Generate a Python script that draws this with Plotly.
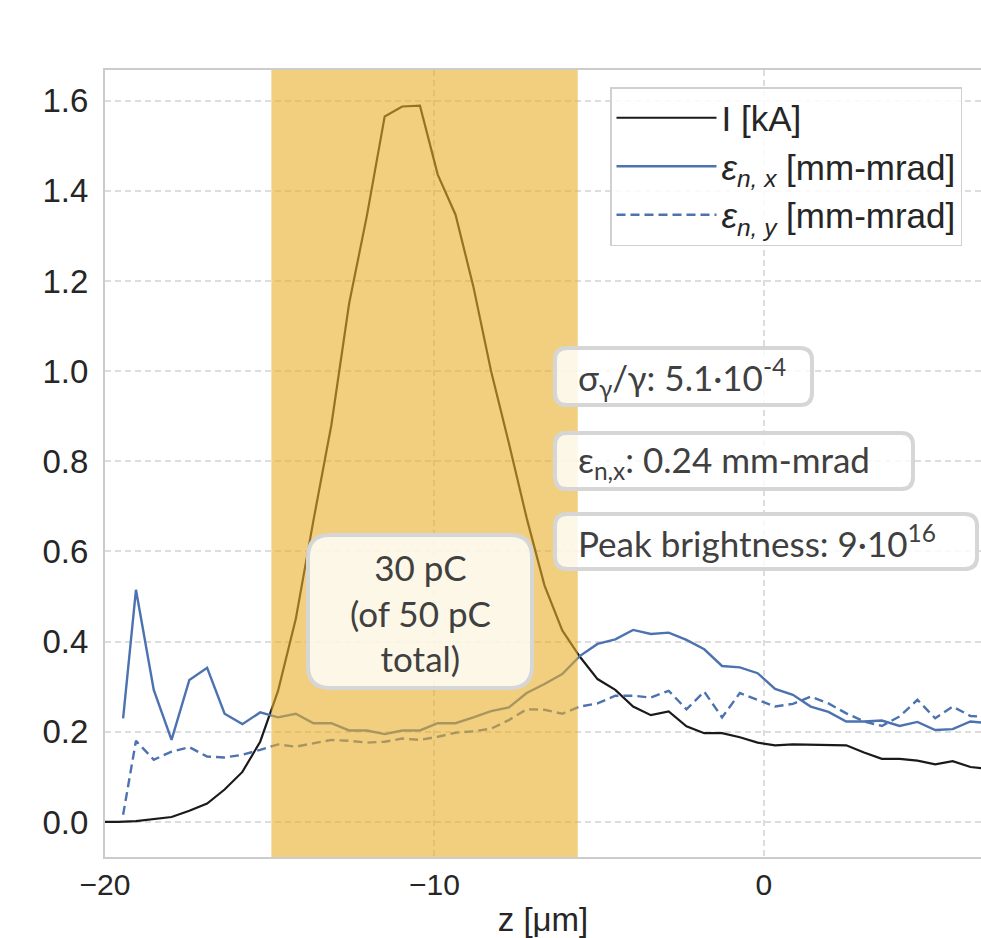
import plotly.graph_objects as go

# ---------------- data ----------------
z_current = [-20.14, -19.60, -19.06, -18.52, -17.98, -17.44, -16.90, -16.37, -15.83, -15.29,
             -14.75, -14.21, -13.67, -13.13, -12.59, -12.05, -11.51, -10.98, -10.44, -9.90,
             -9.36, -8.82, -8.28, -7.74, -7.20, -6.66, -6.12, -5.59, -5.05, -4.51,
             -3.97, -3.43, -2.89, -2.35, -1.81, -1.27, -0.73, -0.19, 0.34, 0.88,
             1.42, 1.96, 2.50, 3.04, 3.58, 4.12, 4.66, 5.20, 5.73, 6.27, 6.81]
current_kA = [0.0, 0.0, 0.002, 0.006, 0.011, 0.025, 0.041, 0.072, 0.111, 0.178,
              0.29, 0.45, 0.67, 0.88, 1.15, 1.345, 1.565, 1.587, 1.589, 1.436,
              1.347, 1.188, 1.0, 0.84, 0.674, 0.525, 0.425, 0.367, 0.317, 0.293,
              0.256, 0.237, 0.245, 0.212, 0.197, 0.197, 0.188, 0.176, 0.170, 0.172,
              0.171, 0.170, 0.170, 0.154, 0.140, 0.140, 0.136, 0.128, 0.135, 0.122, 0.118]

z_emit = [-19.45, -19.06, -18.52, -17.98, -17.44, -16.90, -16.37, -15.83, -15.29,
          -14.75, -14.21, -13.67, -13.13, -12.59, -12.05, -11.51, -10.98, -10.44, -9.90,
          -9.36, -8.82, -8.28, -7.74, -7.20, -6.66, -6.12, -5.59, -5.05, -4.51,
          -3.97, -3.43, -2.89, -2.35, -1.81, -1.27, -0.73, -0.19, 0.34, 0.88,
          1.42, 1.96, 2.50, 3.04, 3.58, 4.12, 4.66, 5.20, 5.73, 6.27, 6.81]
emit_x = [0.23, 0.515, 0.293, 0.182, 0.315, 0.342, 0.24, 0.217, 0.243,
          0.232, 0.240, 0.219, 0.219, 0.203, 0.203, 0.195, 0.203, 0.203, 0.219,
          0.219, 0.232, 0.246, 0.254, 0.286, 0.306, 0.328, 0.368, 0.395, 0.405,
          0.426, 0.417, 0.420, 0.404, 0.383, 0.346, 0.343, 0.330, 0.295, 0.282,
          0.256, 0.244, 0.223, 0.223, 0.225, 0.213, 0.222, 0.204, 0.206, 0.223, 0.219]
emit_y = [0.016, 0.180, 0.138, 0.156, 0.166, 0.145, 0.143, 0.149, 0.160,
          0.172, 0.167, 0.175, 0.182, 0.180, 0.176, 0.178, 0.185, 0.182, 0.189,
          0.198, 0.201, 0.207, 0.226, 0.250, 0.249, 0.240, 0.256, 0.263, 0.280,
          0.280, 0.276, 0.291, 0.250, 0.289, 0.232, 0.286, 0.271, 0.256, 0.262,
          0.278, 0.263, 0.241, 0.223, 0.213, 0.234, 0.271, 0.230, 0.256, 0.235, 0.233]

x_ticks = [-20, -10, 0]
x_tick_labels = ["\u221220", "\u221210", "0"]
y_ticks = [0.0, 0.2, 0.4, 0.6, 0.8, 1.0, 1.2, 1.4, 1.6]
y_tick_labels = ["0.0", "0.2", "0.4", "0.6", "0.8", "1.0", "1.2", "1.4", "1.6"]
span_z = [-14.95, -5.65]

legend_labels = ["I [kA]",
                 "<i>\u03b5</i><sub><i>n, x</i></sub> [mm-mrad]",
                 "<i>\u03b5</i><sub><i>n, y</i></sub> [mm-mrad]"]
charge_text = "30 pC<br>(of 50 pC<br>total)"
info_texts = ["\u03c3<sub>\u03b3</sub>/\u03b3: 5.1\u00b710<sup>-4</sup>",
              "\u03b5<sub>n,x</sub>: 0.24 mm-mrad",
              "Peak brightness: 9\u00b710<sup>16</sup>"]

# ---------------- layout geometry ----------------
W, H = 981, 938
L, R, T, B = 105, 0, 70, 81
PW, PH = W - L - R, H - T - B


def px(xp):
    return (xp - L) / PW


def py(yp):
    return (H - B - yp) / PH


def rounded_box(x0, y0, x1, y1, r):
    pts = [
        ("M", [(x0 + r, y0)]), ("L", [(x1 - r, y0)]), ("Q", [(x1, y0), (x1, y0 + r)]),
        ("L", [(x1, y1 - r)]), ("Q", [(x1, y1), (x1 - r, y1)]),
        ("L", [(x0 + r, y1)]), ("Q", [(x0, y1), (x0, y1 - r)]),
        ("L", [(x0, y0 + r)]), ("Q", [(x0, y0), (x0 + r, y0)]),
    ]
    s = ""
    for cmd, ps in pts:
        s += cmd + " ".join(f"{px(a):.5f},{py(b):.5f}" for a, b in ps) + " "
    return s + "Z"


BLUE = "#4c72b0"
fig = go.Figure()
fig.add_trace(go.Scatter(x=z_current, y=current_kA, mode="lines", name=legend_labels[0],
                         legendgroup="a", line=dict(color="#1a1a1a", width=2.2)))
fig.add_trace(go.Scatter(x=z_emit, y=emit_x, mode="lines", name=legend_labels[1],
                         legendgroup="b", line=dict(color=BLUE, width=2.4)))
fig.add_trace(go.Scatter(x=z_emit, y=emit_y, mode="lines", name=legend_labels[2],
                         legendgroup="c", line=dict(color=BLUE, width=2.4, dash="9px,5px")))

shapes = [dict(type="rect", xref="x", yref="paper", x0=span_z[0], x1=span_z[1], y0=0, y1=1,
               fillcolor="rgba(232,175,40,0.6)", line=dict(width=0), layer="above")]
box_style = dict(type="path", xref="paper", yref="paper", layer="above",
                 fillcolor="rgba(255,255,255,0.82)", line=dict(color="#d6d6d6", width=4))
shapes.append(dict(path=rounded_box(308, 535, 532, 688, 22), **box_style))
shapes.append(dict(path=rounded_box(555, 348, 812, 405, 12), **box_style))
shapes.append(dict(path=rounded_box(555, 433, 913, 489, 12), **box_style))
shapes.append(dict(path=rounded_box(555, 514, 977, 569, 12), **box_style))

ann_font = dict(family="Lato, 'Noto Sans', sans-serif", size=35, color="#404040")
annotations = [dict(text=charge_text, xref="paper", yref="paper", x=px(420), y=py(612),
                    xanchor="center", yanchor="middle", showarrow=False, align="center",
                    font=ann_font)]
for txt, yc in zip(info_texts, [377, 461, 541]):
    annotations.append(dict(text=txt, xref="paper", yref="paper", x=px(576), y=py(yc),
                            xanchor="left", yanchor="middle", showarrow=False,
                            align="left", font=ann_font))

fig.update_layout(
    width=W, height=H,
    margin=dict(l=L, r=R, t=T, b=B, autoexpand=False),
    paper_bgcolor="white", plot_bgcolor="white",
    font=dict(family="'Liberation Sans', Arial, sans-serif", color="#262626"),
    shapes=shapes, annotations=annotations,
    showlegend=True,
    legend=dict(x=px(610), y=py(87), xanchor="left", yanchor="top",
                bgcolor="rgba(255,255,255,0.85)", bordercolor="#d0d0d0", borderwidth=1.5,
                font=dict(size=35, color="#262626"), itemwidth=100, tracegroupgap=7,
                traceorder="normal"),
    xaxis=dict(range=[-20, 6.59], tickmode="array", tickvals=x_ticks, ticktext=x_tick_labels,
               showgrid=True, gridcolor="#dddddd", gridwidth=1.5, griddash="6px,4px",
               zeroline=False, showline=True, linecolor="#cccccc", linewidth=2, mirror=True,
               ticks="", tickfont=dict(size=30), ticklabelstandoff=0,
               title=dict(text="z [\u03bcm]", font=dict(size=33), standoff=14)),
    yaxis=dict(range=[-0.0777, 1.668], tickmode="array", tickvals=y_ticks, ticktext=y_tick_labels,
               showgrid=True, gridcolor="#dddddd", gridwidth=1.5, griddash="6px,4px",
               zeroline=False, showline=True, linecolor="#cccccc", linewidth=2, mirror=False,
               ticks="", tickfont=dict(size=33), ticklabelstandoff=8),
)

fig.write_html("out.html",
               config={"displayModeBar": False},
               post_script="document.body.style.margin='0px';"
                           "document.body.style.overflow='hidden';")
